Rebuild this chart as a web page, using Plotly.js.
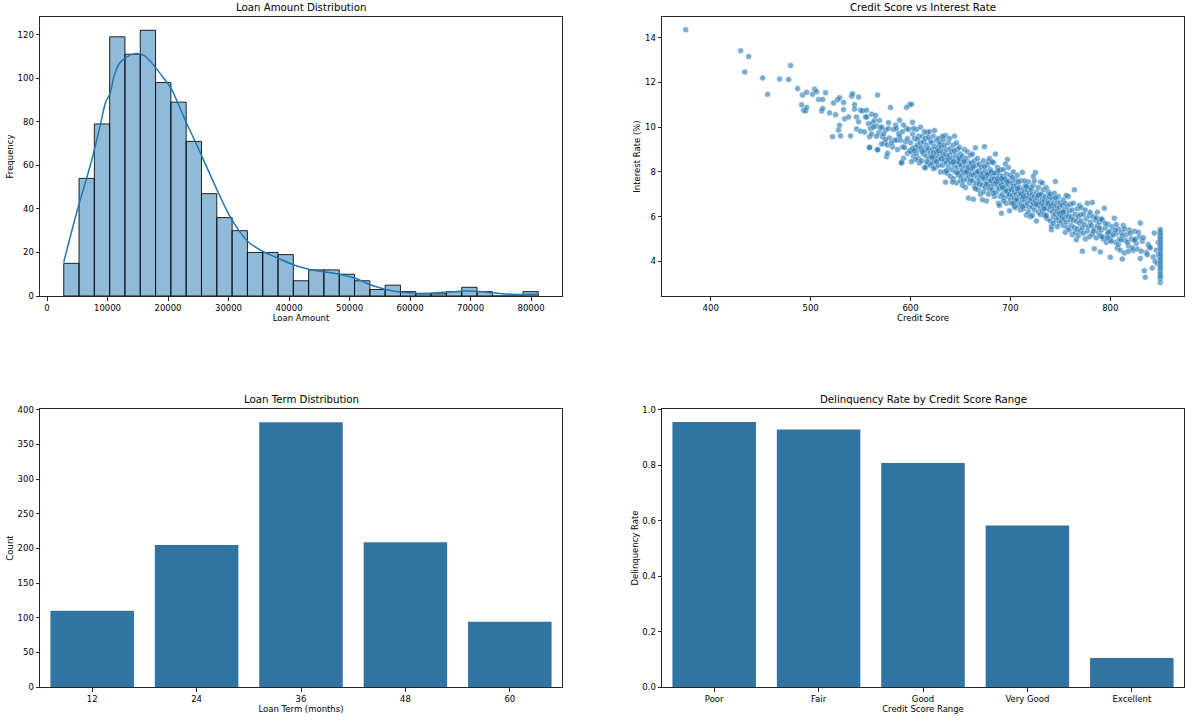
<!DOCTYPE html>
<html>
<head>
<meta charset="utf-8">
<script src="https://cdn.plot.ly/plotly-3.0.1.min.js"></script>
<style>html,body{margin:0;padding:0;background:#fff;}#chart{width:1192px;height:722px;}</style>
</head>
<body>
<div id="chart"></div>
<script>
// ---------- Loan Amount histogram ----------
const loanBinStart = 2765;
const loanBinWidth = 2530;
const loanAmountCounts = [15, 54, 79, 119, 111, 122, 98, 89, 71, 47, 36, 30, 20, 20, 19, 7, 12, 12, 10, 7, 3, 5, 2, 1, 1, 2, 4, 2, 0, 0, 2];
const kdeLoanAmount = [2765, 5130, 6590, 7730, 8650, 9730, 10420, 11080, 11900, 13000, 14700, 16000, 17000, 18070, 19300, 20540, 21800, 23130, 24400, 25660, 27000, 28250, 29500, 30780, 32000, 33300, 34600, 35840, 38370, 40960, 43430, 46020, 48550, 51080, 53670, 56200, 58730, 61270, 63860, 66380, 68910, 71450, 73980, 76500, 81200];
const kdeDensity = [15.6, 40.6, 54.4, 66, 76.6, 89.3, 93, 101, 106.5, 109.5, 111.3, 110.5, 108, 104.4, 100, 95.2, 87.5, 79, 71.5, 63.8, 55.5, 47.8, 40.5, 34, 29, 24.8, 22.2, 20.2, 17.1, 14.1, 12.2, 11, 9.9, 8, 4.9, 2.9, 1.7, 1.2, 1.4, 1.8, 2.3, 2.1, 1.4, 0.8, 0.8];
const loanAmountTicks = [0, 10000, 20000, 30000, 40000, 50000, 60000, 70000, 80000];
const frequencyTicks = [0, 20, 40, 60, 80, 100, 120];

// ---------- Credit score vs interest rate ----------
const creditScore = [
375,430,438,434,452,457,469,478,480,487,
491,492,493,495,496,496,502,504,506,508,511,512,512,515,519,
522,523,525,527,528,529,529,530,533,534,533,538,540,541,542,544,544,546,546,548,548,550,550,552,554,555,556,556,558,559,559,
560,561,562,564,565,566,567,567,568,570,571,572,574,575,576,578,579,580,582,584,585,586,588,589,590,591,592,593,595,596,597,599,
561,563,569,573,577,578,581,583,587,589,592,594,597,598,599,593,586,575,571,566,559,567,577,591,596,
600,601,602,603,604,605,606,606,607,608,608,609,610,609,603,605,607,602,604,610,601,602,601,
611,611,612,613,613,614,614,615,615,616,616,617,617,618,618,619,619,620,620,612,614,616,618,620,
621,621,622,622,623,623,624,624,625,625,626,626,627,627,628,628,629,629,630,630,622,624,626,628,630,623,
631,631,632,632,633,633,634,634,635,635,635,636,636,637,637,638,638,639,639,640,640,632,634,636,638,640,
641,641,642,642,643,643,644,644,645,645,646,646,647,647,648,648,649,649,650,650,642,644,646,648,650,643,647,649,
651,651,652,652,653,653,654,654,655,655,656,656,657,657,658,658,659,659,660,660,652,654,656,658,660,
661,661,662,662,663,663,664,664,665,665,666,666,667,667,668,668,669,669,670,670,662,665,667,669,663,
671,671,672,672,673,673,674,674,675,675,676,676,677,677,678,678,679,679,680,680,672,674,676,678,680,673,677,679,
681,681,682,682,683,683,684,684,685,685,686,686,687,687,688,688,689,689,690,690,682,684,686,688,690,683,687,689,
691,691,692,692,693,693,694,694,695,695,696,696,697,697,698,698,699,699,700,700,692,694,696,698,700,693,695,697,699,691,
701,701,702,702,703,703,704,704,705,705,706,706,707,707,708,708,709,709,710,710,702,704,706,708,710,703,707,
711,711,712,712,713,713,714,714,715,715,716,716,717,717,718,718,719,719,720,720,712,714,716,718,720,713,
721,721,722,722,723,723,724,724,725,725,726,726,727,727,728,728,729,729,730,730,722,724,726,728,730,723,
731,731,732,732,733,733,734,734,735,735,736,736,737,737,738,738,739,739,740,740,732,734,736,738,740,
741,741,741,742,742,743,743,744,744,745,745,746,746,747,747,748,748,749,749,750,750,743,745,747,749,
751,751,752,752,753,753,754,754,755,755,756,756,757,757,758,758,759,759,760,760,753,756,
761,761,762,762,763,763,764,764,765,765,766,766,767,767,768,768,769,769,770,770,
771,771,772,772,773,773,774,775,775,776,777,777,778,779,779,780,780,
781,782,782,783,784,784,785,786,787,787,788,789,790,790,
791,792,793,794,795,796,797,798,799,800,800,
801,802,804,805,806,807,808,809,810,
811,812,813,814,815,816,818,819,
821,823,824,826,827,829,830,830,
832,834,835,836,838,839,
842,843,844,845,846,847,848,848,
850,850,850,850,850,850,850,850,850,850,850,850,850,850,850,850,850,850,850,850,850,850,850,850,850,850,850,850,850,850,
783,786,789,792,795,798,801,803,806,808,811,814,817,820,822,825,828,831,833,837,840,791,797,805,812,818,824
];
const interestRate = [
14.36,13.42,13.16,12.47,12.2,11.47,12.16,12.13,12.76,11.73,
11.0,11.44,10.76,10.73,11.56,10.88,11.47,11.7,11.59,11.24,10.73,11.24,10.84,11.54,10.64,
9.57,11.08,10.56,11.23,9.87,10.09,11.32,9.61,10.79,10.37,11.11,10.46,9.61,11.39,11.5,11.01,10.81,10.46,9.92,11.35,10.24,10.76,9.82,10.73,9.79,10.46,10.76,10.46,10.16,9.57,9.08,
9.94,10.58,10.19,10.31,10.53,10.06,11.44,8.99,9.75,9.94,10.01,9.57,9.28,9.87,8.68,9.94,9.52,10.88,9.12,9.42,10.09,9.42,9.72,10.31,9.42,8.39,9.12,8.61,9.35,9.94,8.83,11.01,
9.7,10.0,10.3,9.7,9.2,10.2,9.3,9.9,9.0,9.6,9.8,9.1,9.5,9.9,8.95,10.1,9.95,9.45,9.25,9.6,9.1,8.99,8.83,8.43,10.88,
9.3,8.9,9.7,8.7,9.5,9.1,8.8,9.9,9.2,8.6,9.6,9.0,10.0,8.4,9.95,8.55,9.45,9.05,8.95,9.3,8.46,10.22,11.03,
9.1,8.5,9.6,8.8,9.35,8.2,9.0,8.19,9.5,8.7,9.2,8.95,9.75,8.38,9.05,9.8,8.6,9.4,8.85,8.9,9.8,8.45,9.55,8.3,
8.7,9.3,8.4,9.0,8.85,9.6,8.5,9.15,8.75,8.2,9.4,8.9,8.6,9.05,8.3,9.5,8.8,9.2,8.55,8.0,8.65,9.85,8.45,8.95,9.3,8.15,
8.6,9.1,8.3,8.9,8.7,9.45,8.0,8.5,9.63,7.54,8.8,8.4,9.0,7.94,8.65,9.3,8.2,8.75,9.5,8.45,7.8,9.6,9.2,8.05,8.55,9.05,
8.4,8.9,8.1,8.6,9.2,7.7,9.6,8.3,8.75,8.0,7.51,8.5,9.0,8.2,7.85,8.65,8.35,9.1,8.0,8.8,7.55,8.95,9.3,8.45,7.6,8.45,7.95,8.6,
8.3,7.8,8.7,8.1,7.6,8.5,9.0,7.95,8.25,7.3,8.6,7.7,8.05,8.9,6.83,7.85,8.4,7.5,8.1,8.75,7.4,8.45,8.0,8.2,7.65,
7.9,8.4,7.6,8.15,6.78,7.85,8.5,7.35,9.08,7.95,7.5,8.3,7.75,8.6,7.2,8.05,7.6,8.35,7.9,7.0,8.8,7.25,8.0,7.45,8.25,
7.8,8.2,7.4,7.95,8.5,7.1,9.13,7.65,8.05,7.3,7.85,6.7,8.3,7.5,7.7,8.45,7.2,7.95,7.6,8.1,6.75,8.25,7.45,7.0,7.35,7.75,7.9,8.6,
7.6,8.0,7.2,7.8,8.4,7.45,6.9,7.7,8.8,7.5,7.1,7.95,7.35,8.2,7.6,6.6,7.85,7.25,7.5,8.1,8.45,7.95,7.55,8.05,6.9,7.05,7.7,6.5,
6.15,7.4,7.8,7.0,7.55,8.1,7.2,6.85,7.65,7.35,6.6,7.9,8.56,7.1,7.45,6.9,6.26,7.6,7.25,7.85,7.3,7.7,7.15,8.2,6.75,6.7,8.35,7.55,7.0,7.7,
7.2,6.6,7.5,6.95,7.35,8.0,6.8,7.1,7.65,6.4,7.0,7.4,6.7,7.85,7.15,6.5,7.3,6.9,7.6,6.3,7.75,6.45,6.75,7.55,7.05,6.6,7.25,
7.0,6.6,7.98,6.8,7.25,6.35,7.1,6.75,7.4,6.5,6.07,6.95,7.2,6.6,6.85,7.55,6.4,7.05,6.7,7.3,6.45,7.6,7.35,6.2,6.0,6.9,
6.8,7.2,6.45,7.0,6.6,7.4,6.3,6.9,7.97,6.7,5.81,7.1,6.5,6.85,7.3,6.2,6.65,7.0,6.4,7.55,6.05,7.6,6.55,6.95,6.1,7.8,
6.6,7.0,6.25,6.8,6.5,7.2,6.1,6.7,6.0,6.9,6.4,7.3,6.55,5.9,6.75,7.1,6.3,6.9,6.45,5.8,7.5,6.35,6.05,6.6,7.0,
5.41,5.56,6.5,6.2,6.8,6.0,6.6,6.35,7.05,7.57,6.1,6.5,5.85,6.7,6.25,5.95,6.9,5.71,6.4,6.05,6.6,5.7,6.85,5.55,6.15,
6.2,5.8,6.5,6.0,6.75,5.6,6.3,5.9,6.6,5.3,6.1,5.75,6.45,5.5,6.0,6.9,5.4,6.25,5.85,6.55,6.2,6.95,
6.0,5.6,5.19,6.3,5.85,6.6,7.2,5.5,6.1,5.3,4.97,5.8,6.35,5.45,6.0,5.15,5.7,6.5,5.35,6.1,
5.8,6.4,4.45,5.5,6.1,5.25,5.65,6.3,5.0,5.9,5.35,6.6,5.55,6.05,5.1,5.75,6.2,
5.6,6.63,5.2,6.0,4.56,5.45,5.85,5.05,5.6,6.2,5.3,5.75,4.42,5.15,
5.4,5.85,5.0,6.38,5.5,4.85,5.2,5.65,4.95,4.18,5.35,
5.1,5.55,5.93,4.85,5.25,4.6,5.45,5.0,4.5,
5.3,4.1,5.6,4.37,4.95,5.2,4.7,5.4,
5.0,4.49,5.35,4.8,4.55,5.1,5.71,4.13,
4.9,3.58,3.29,4.4,4.75,4.65,
3.7,4.2,5.27,4.0,4.5,3.9,4.85,4.3,
3.05,3.22,3.31,3.38,3.49,3.57,3.66,3.72,3.81,3.88,3.97,4.03,4.12,4.18,4.27,4.33,4.41,4.49,4.56,4.62,4.71,4.77,4.86,4.93,5.01,5.08,5.16,5.24,5.31,5.42,
5.35,5.95,5.5,5.1,5.7,5.3,4.9,5.2,5.65,4.75,4.95,5.45,4.85,5.25,4.6,5.0,5.3,4.45,5.05,4.3,4.6,5.9,5.05,5.4,5.15,4.45,4.95
];
const creditTicks = [400, 500, 600, 700, 800];
const rateTicks = [4, 6, 8, 10, 12, 14];

// ---------- Loan term counts ----------
const loanTerms = ['12', '24', '36', '48', '60'];
const loanTermCounts = [110, 205, 382, 209, 94];
const countTicks = [0, 50, 100, 150, 200, 250, 300, 350, 400];

// ---------- Delinquency by credit range ----------
const creditRanges = ['Poor', 'Fair', 'Good', 'Very Good', 'Excellent'];
const delinquencyRates = [0.956, 0.929, 0.808, 0.583, 0.105];
const delinquencyTicks = [0, 0.2, 0.4, 0.6, 0.8, 1.0];

// ---------- build ----------
const binCenters = loanAmountCounts.map((_, i) => loanBinStart + (i + 0.5) * loanBinWidth);
const blue = '#1f77b4';
const barBlue = '#3274a1';
const font = 'DejaVu Sans, Liberation Sans, sans-serif';
const tickSize = 8.5;

const traces = [
  { type: 'bar', x: binCenters, y: loanAmountCounts, width: loanBinWidth, xaxis: 'x', yaxis: 'y',
    marker: { color: 'rgba(31,119,180,0.5)', line: { color: 'rgba(0,0,0,0.85)', width: 1 } }, hoverinfo: 'x+y' },
  { type: 'scatter', mode: 'lines', x: kdeLoanAmount, y: kdeDensity, xaxis: 'x', yaxis: 'y',
    line: { color: blue, width: 1.5, shape: 'spline', smoothing: 0.8 } },
  { type: 'scatter', mode: 'markers', x: creditScore, y: interestRate, xaxis: 'x2', yaxis: 'y2',
    marker: { color: blue, size: 6, opacity: 0.6, line: { color: '#ffffff', width: 0.5 } } },
  { type: 'bar', x: loanTerms, y: loanTermCounts, xaxis: 'x3', yaxis: 'y3',
    marker: { color: barBlue, line: { width: 0 } } },
  { type: 'bar', x: creditRanges, y: delinquencyRates, xaxis: 'x4', yaxis: 'y4',
    marker: { color: barBlue, line: { width: 0 } } }
];

function ax(extra) {
  return Object.assign({
    showline: true, mirror: true, linecolor: '#262626', linewidth: 1,
    ticks: 'outside', ticklen: 3.5, tickwidth: 1, tickcolor: '#262626',
    showgrid: false, zeroline: false, automargin: false,
    tickfont: { family: font, size: tickSize, color: '#000' }
  }, extra);
}
function axTitle(text, standoff) {
  return { text: text, font: { family: font, size: tickSize, color: '#000' }, standoff: standoff };
}

const colL = [40 / 1192, 562 / 1192];
const colR = [662 / 1192, 1184 / 1192];
const rowT = [(722 - 296) / 722, (722 - 17) / 722];
const rowB = [(722 - 687) / 722, (722 - 409) / 722];

const layout = {
  width: 1192, height: 722,
  margin: { l: 0, r: 0, t: 0, b: 0, pad: 0 },
  paper_bgcolor: '#fff', plot_bgcolor: '#fff',
  showlegend: false, bargap: 0.2,
  font: { family: font, size: tickSize, color: '#000' },
  xaxis: ax({ domain: colL, anchor: 'y', range: [-1157, 85122], tickvals: loanAmountTicks, tickformat: 'd', title: axTitle('Loan Amount', 3) }),
  yaxis: ax({ domain: rowT, anchor: 'x', range: [0, 128.1], tickvals: frequencyTicks, title: axTitle('Frequency', 2) }),
  xaxis2: ax({ domain: colR, anchor: 'y2', range: [351.25, 873.75], tickvals: creditTicks, title: axTitle('Credit Score', 3) }),
  yaxis2: ax({ domain: rowT, anchor: 'x2', range: [2.45, 14.93], tickvals: rateTicks, title: axTitle('Interest Rate (%)', 2) }),
  xaxis3: ax({ domain: colL, anchor: 'y3', type: 'category', range: [-0.5, 4.5], title: axTitle('Loan Term (months)', 2) }),
  yaxis3: ax({ domain: rowB, anchor: 'x3', range: [0, 401.1], tickvals: countTicks, title: axTitle('Count', 2) }),
  xaxis4: ax({ domain: colR, anchor: 'y4', type: 'category', range: [-0.5, 4.5], title: axTitle('Credit Score Range', 2) }),
  yaxis4: ax({ domain: rowB, anchor: 'x4', range: [0, 1.003], tickvals: delinquencyTicks, tickformat: '.1f', title: axTitle('Delinquency Rate', 2) }),
  annotations: [
    { text: 'Loan Amount Distribution', x: (colL[0] + colL[1]) / 2, y: rowT[1] },
    { text: 'Credit Score vs Interest Rate', x: (colR[0] + colR[1]) / 2, y: rowT[1] },
    { text: 'Loan Term Distribution', x: (colL[0] + colL[1]) / 2, y: rowB[1] },
    { text: 'Delinquency Rate by Credit Score Range', x: (colR[0] + colR[1]) / 2, y: rowB[1] }
  ].map(a => Object.assign(a, { xref: 'paper', yref: 'paper', xanchor: 'center', yanchor: 'bottom', yshift: 2, showarrow: false,
    font: { family: font, size: 10.2, color: '#000' } }))
};

Plotly.newPlot('chart', traces, layout, { staticPlot: true, displayModeBar: false });
</script>
</body>
</html>
